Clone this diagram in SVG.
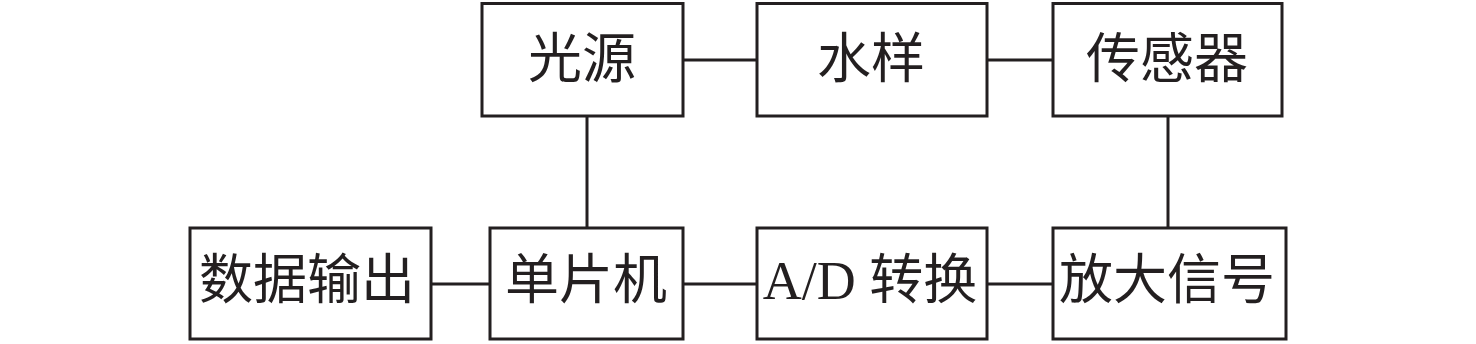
<svg xmlns="http://www.w3.org/2000/svg" width="1476" height="344" viewBox="0 0 1476 344">
<style>
.box{fill:#fff;stroke:#231f20;stroke-width:3}
.lbl{font-family:"Liberation Serif","Noto Sans CJK SC",serif;font-size:54px;fill:#231f20;text-anchor:middle}
.ln{stroke:#231f20;stroke-width:3;fill:none}
</style>
<rect width="1476" height="344" fill="#fff"/>
<g id="connectors">
<line class="ln" x1="683" y1="60" x2="757" y2="60"/>
<line class="ln" x1="987" y1="60" x2="1053" y2="60"/>
<line class="ln" x1="587" y1="116" x2="587" y2="228"/>
<line class="ln" x1="1168" y1="116" x2="1168" y2="228"/>
<line class="ln" x1="431" y1="284" x2="490" y2="284"/>
<line class="ln" x1="683" y1="284" x2="757" y2="284"/>
<line class="ln" x1="987" y1="284" x2="1053" y2="284"/>
</g>
<g id="n_light"><rect class="box" x="482" y="3.5" width="201" height="112.5"/><text class="lbl" x="582" y="78">光源</text></g>
<g id="n_water"><rect class="box" x="757" y="3.5" width="230" height="112.5"/><text class="lbl" x="871" y="78">水样</text></g>
<g id="n_sensor"><rect class="box" x="1053" y="3.5" width="229" height="112.5"/><text class="lbl" x="1167" y="78">传感器</text></g>
<g id="n_output"><rect class="box" x="190" y="228" width="241" height="111"/><text class="lbl" x="307" y="299">数据输出</text></g>
<g id="n_mcu"><rect class="box" x="490" y="228" width="193" height="111"/><text class="lbl" x="586" y="299">单片机</text></g>
<g id="n_ad"><rect class="box" x="757" y="228" width="230" height="111"/><text class="lbl" x="870" y="299">A/D 转换</text></g>
<g id="n_amp"><rect class="box" x="1053" y="228" width="233" height="111"/><text class="lbl" x="1167" y="299">放大信号</text></g>
</svg>
